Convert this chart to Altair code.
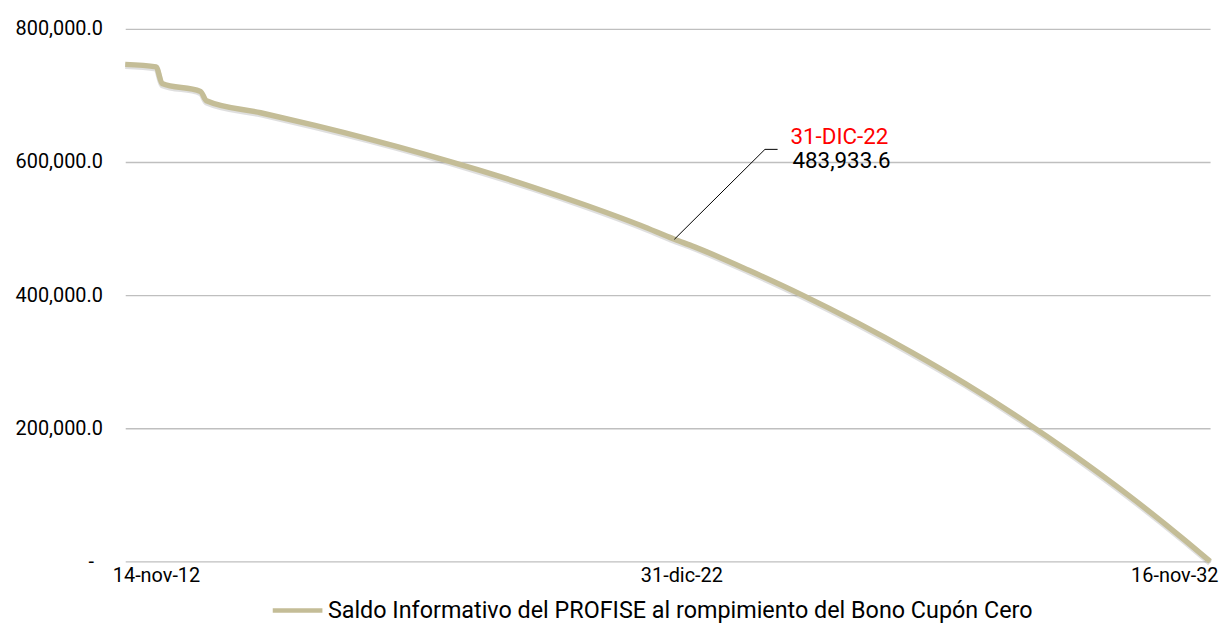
import altair as alt
import pandas as pd

# ---- data ----
dates = [
    "2012-11-14", "2013-06-10", "2013-07-20", "2014-04-05", "2014-05-15",
    "2015-05-15", "2016-05-15", "2017-05-15", "2018-05-15", "2019-05-15",
    "2020-05-15", "2021-05-15", "2022-05-15", "2022-12-31", "2023-05-15",
    "2024-05-15", "2025-05-15", "2026-05-15", "2027-05-15", "2028-05-15",
    "2029-05-15", "2030-05-15", "2031-05-15", "2032-05-15", "2032-11-16",
]
values = [
    746700, 743000, 718000, 706000, 692000,
    674000, 655000, 634500, 612400, 588500,
    562800, 535000, 504900, 483933.6, 472500,
    437300, 399600, 358600, 314400, 266700,
    215100, 159400, 99500, 34600, 0,
]
series_name = "Saldo Informativo del PROFISE al rompimiento del Bono Cupón Cero"

tick_dates = ["2012-11-14", "2022-12-31", "2032-11-16"]
tick_labels = ["14-nov-12", "31-dic-22", "16-nov-32"]
y_ticks = [0, 200000, 400000, 600000, 800000]

# annotation: point, elbow, end of leader
ann_dates = ["2022-12-31", "2024-09-01", "2024-11-25"]
ann_values = [483933.6, 619000, 619000]
ann_title = "31-DIC-22"
ann_value_text = "483,933.6"

LINE_COLOR = "#C4BD97"
FONT = "Roboto"

df = pd.DataFrame({"fecha": dates, "saldo": values, "serie": series_name})
ann_df = pd.DataFrame({"fecha": ann_dates, "saldo": ann_values})
title_df = pd.DataFrame({"fecha": [ann_dates[-1]], "saldo": [ann_values[-1]], "txt": [ann_title]})
value_df = pd.DataFrame({"fecha": [ann_dates[-1]], "saldo": [ann_values[-1]], "txt": [ann_value_text]})


def dt(s):
    y, m, d = (int(p) for p in s.split("-"))
    return alt.DateTime(year=y, month=m, date=d, utc=True)


lookup = "{" + ",".join(f"'{d}':'{l}'" for d, l in zip(tick_dates, tick_labels)) + "}"
x_label_expr = f"{lookup}[utcFormat(datum.value, '%Y-%m-%d')]"

x_scale = alt.Scale(type="utc", domain=[dt(tick_dates[0]), dt(tick_dates[-1])], nice=False)
y_scale = alt.Scale(domain=[0, 800000], nice=False)

x_enc = alt.X(
    "fecha:T",
    scale=x_scale,
    title=None,
    axis=alt.Axis(
        values=[dt(d) for d in tick_dates],
        labelExpr=x_label_expr,
        grid=False,
        domain=False,
        ticks=False,
        labelFlush=True,
        labelFlushOffset=8,
        labelOffset={
            "condition": [
                {"test": "utcmonth(datum.value) == 11", "value": 7},
                {"test": "utcyear(datum.value) == 2012", "value": -5},
            ],
            "value": 0,
        },
        labelPadding=4,
        labelFontSize=20,
        labelFont=FONT,
        labelColor="#000000",
    ),
)
y_enc = alt.Y(
    "saldo:Q",
    scale=y_scale,
    title=None,
    axis=alt.Axis(
        values=y_ticks,
        labelExpr="datum.value == 0 ? '-' : format(datum.value, ',.1f')",
        grid=True,
        gridColor="#BFBFBF",
        gridWidth=1.3,
        domain=False,
        ticks=False,
        labelPadding={"condition": {"test": "datum.value == 0", "value": 32}, "value": 23},
        labelFontSize=20,
        labelFont=FONT,
        labelColor="#000000",
    ),
)

shadow = alt.Chart(df).transform_calculate(
    sh="datum.saldo - 2500"
).mark_line(color="#7f7f7f", strokeWidth=6, opacity=0.25, interpolate="monotone").encode(
    x=alt.X("fecha:T", scale=x_scale),
    y=alt.Y("sh:Q", scale=y_scale),
)

line = alt.Chart(df).mark_line(strokeWidth=5.5, interpolate="monotone").encode(
    x=x_enc,
    y=y_enc,
    color=alt.Color(
        "serie:N",
        scale=alt.Scale(range=[LINE_COLOR]),
        legend=alt.Legend(
            title=None,
            orient="none",
            legendX=146,
            legendY=558,
            symbolType="stroke",
            symbolStrokeWidth=4.5,
            symbolSize=2500,
            labelFontSize=23.5,
            labelFont=FONT,
            labelColor="#000000",
            labelLimit=1000,
            labelOffset=3,
        ),
    ),
)

leader = alt.Chart(ann_df).mark_line(color="#000000", strokeWidth=1).encode(
    x=alt.X("fecha:T", scale=x_scale),
    y=alt.Y("saldo:Q", scale=y_scale),
)

title_txt = alt.Chart(title_df).mark_text(
    align="left", baseline="middle", font=FONT, fontSize=22.5, dx=13, dy=-12, color="#FF0000"
).encode(
    x=alt.X("fecha:T", scale=x_scale),
    y=alt.Y("saldo:Q", scale=y_scale),
    text="txt:N",
)

value_txt = alt.Chart(value_df).mark_text(
    align="left", baseline="middle", font=FONT, fontSize=22.5, dx=15, dy=12, color="#000000"
).encode(
    x=alt.X("fecha:T", scale=x_scale),
    y=alt.Y("saldo:Q", scale=y_scale),
    text="txt:N",
)

chart = alt.layer(shadow, line, leader, title_txt, value_txt).properties(
    width=1092,
    height=536,
    autosize=alt.AutoSizeParams(type="none"),
    padding={"left": 118, "top": 19, "right": 10, "bottom": 62},
).configure_view(stroke=None)

chart.save("out.html", embed_options={"renderer": "svg", "actions": False})
